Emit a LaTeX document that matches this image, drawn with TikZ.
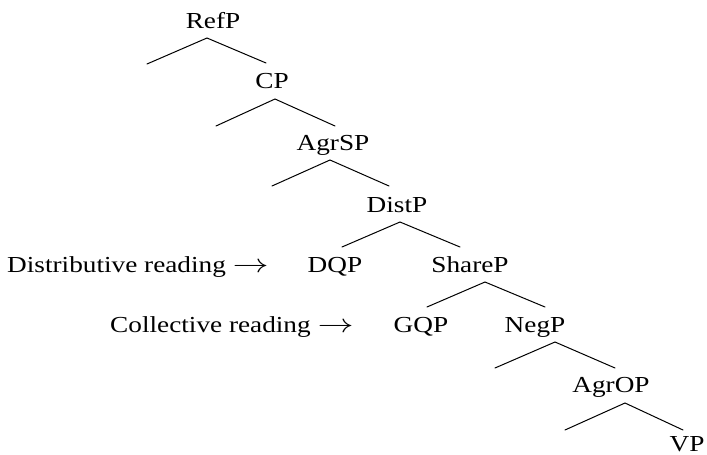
\documentclass[tikz,border=0pt]{standalone}
\usepackage{fontspec}
\setmainfont{Liberation Serif}[FakeStretch=1.19]
\begin{document}
\begin{tikzpicture}[x=1pt,y=-1pt,
  lbl/.style={inner sep=0pt,anchor=base,font=\fontsize{22.9}{27}\selectfont},
  note/.style={lbl,anchor=base west},
  branch/.style={line width=1pt,line cap=round}]
\useasboundingbox (0,0) rectangle (707,455);
\newcommand{\readarrow}{\scalebox{1.45}[1.05]{$\rightarrow$}}

% category labels
\node[lbl] (ref)   at (213,28)  {RefP};
\node[lbl] (cp)    at (272,88)  {CP};
\node[lbl] (agrs)  at (333,150) {AgrSP};
\node[lbl] (dist)  at (397,212) {DistP};
\node[lbl] (dqp)   at (335,272) {DQP};
\node[lbl] (share) at (470,272) {ShareP};
\node[lbl] (gqp)   at (421,332) {GQP};
\node[lbl] (neg)   at (535,332) {NegP};
\node[lbl] (agro)  at (611,392) {AgrOP};
\node[lbl] (vp)    at (687,451) {VP};

% reading annotations
\node[note] (distr) at (7,272)   {Distributive reading \readarrow};
\node[note] (coll)  at (110,332) {Collective reading \readarrow};

% branch points: apex, left end, right end
\coordinate (refA) at (207,38);  \coordinate (refL) at (147,64);  \coordinate (refR) at (266,63);
\coordinate (cpA)  at (275,99);  \coordinate (cpL)  at (216,126); \coordinate (cpR)  at (335,126);
\coordinate (agsA) at (330,160); \coordinate (agsL) at (272,186); \coordinate (agsR) at (389,186);
\coordinate (dstA) at (400,222); \coordinate (dstL) at (342,247); \coordinate (dstR) at (460,247);
\coordinate (shrA) at (485,282); \coordinate (shrL) at (427,307); \coordinate (shrR) at (545,307);
\coordinate (negA) at (555,342); \coordinate (negL) at (495,368); \coordinate (negR) at (615,368);
\coordinate (agoA) at (625,403); \coordinate (agoL) at (565,430); \coordinate (agoR) at (683,430);

\foreach \n in {ref,cp,ags,dst,shr,neg,ago}
  \draw[branch] (\n L) -- (\n A) -- (\n R);
\end{tikzpicture}
\end{document}
